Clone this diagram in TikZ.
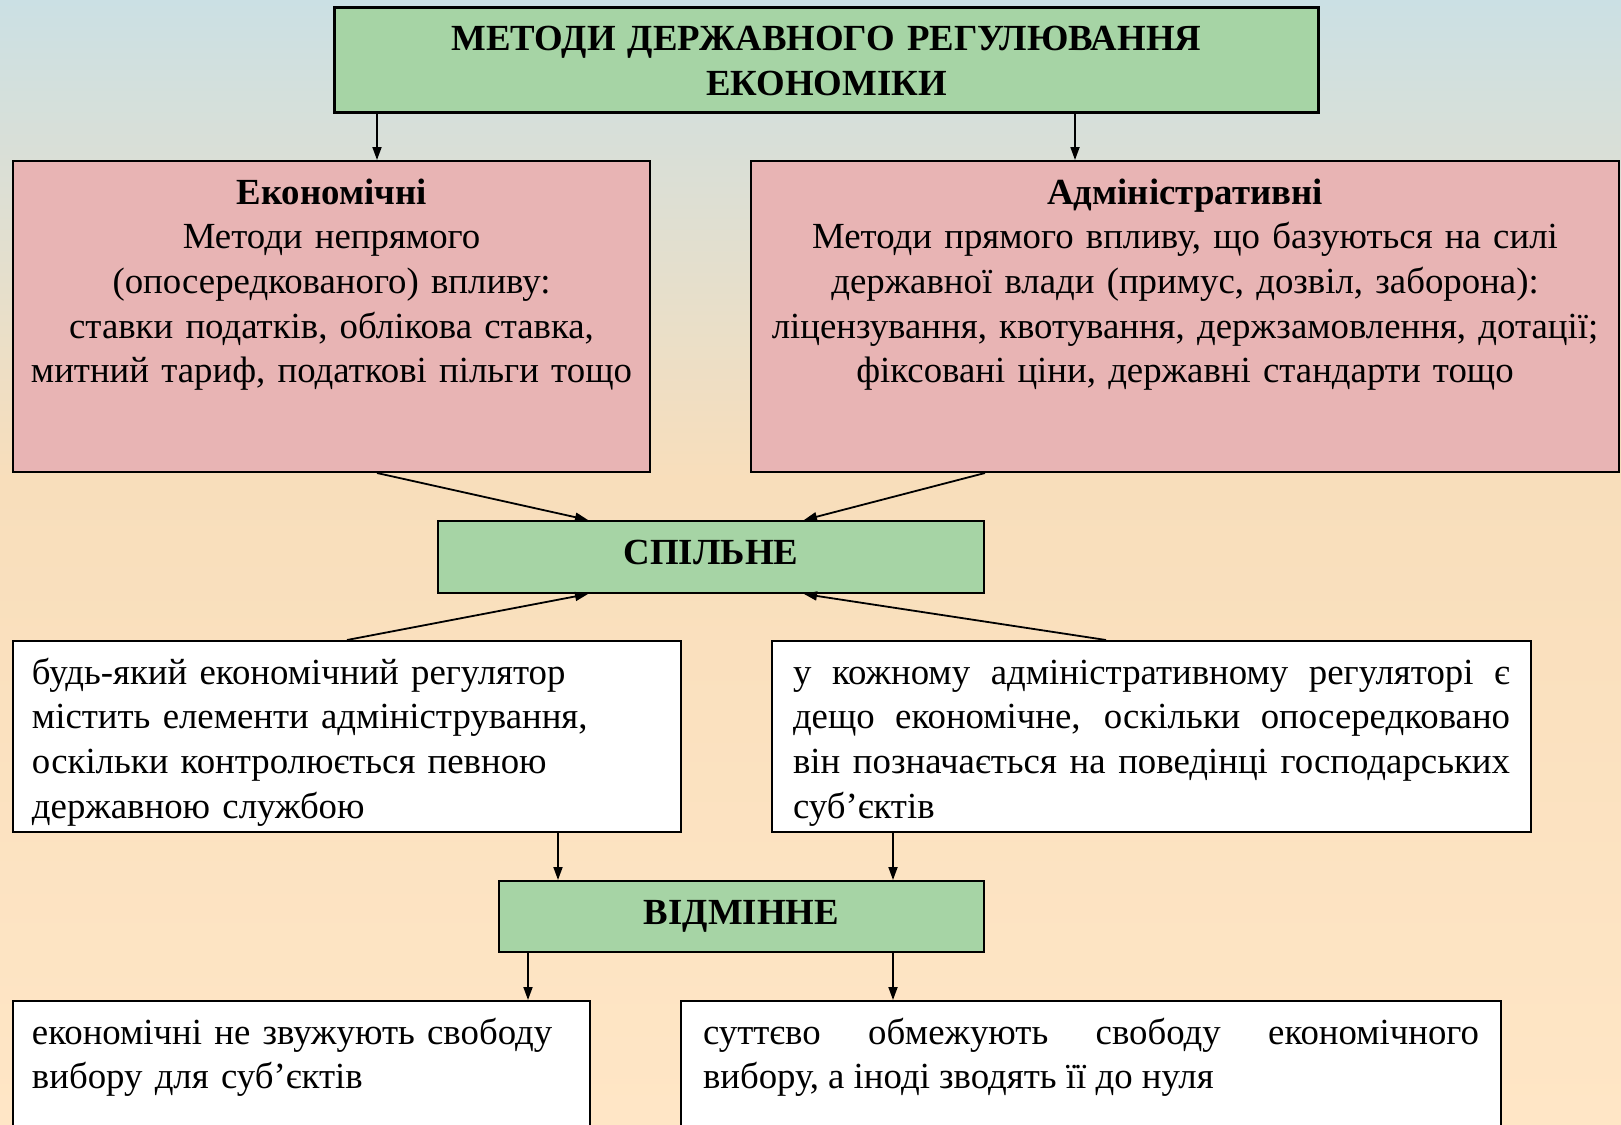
\documentclass[tikz,border=0pt]{standalone}
\usepackage{fontspec}
\setmainfont{Liberation Serif}
\usetikzlibrary{arrows.meta}

\definecolor{bgtop}{RGB}{203,224,228}
\definecolor{bgmid}{RGB}{248,222,187}
\definecolor{bgbot}{RGB}{255,230,198}
\definecolor{boxgreen}{RGB}{166,212,165}
\definecolor{boxpink}{RGB}{232,180,180}

\begin{document}
\begin{tikzpicture}[x=0.5pt, y=-0.5pt,
  font=\fontsize{18.4}{22.35}\selectfont,
  box/.style={draw=black, line width=1pt, anchor=north west,
    inner ysep=0pt, text height=21.5pt},
  greenbox/.style={box, fill=boxgreen, inner xsep=0pt, align=center,
    font=\fontsize{18.4}{22.35}\selectfont\bfseries},
  pinkbox/.style={box, fill=boxpink, inner xsep=0pt, align=center},
  whitebox/.style={box, fill=white, inner xsep=9.5pt},
  arr/.style={-{Triangle[length=6.5pt, width=4.5pt]}, line width=0.9pt}]

  % Page size and background
  \useasboundingbox (0,0) rectangle (1621,1124);
  \clip (0,0) rectangle (1621,1124);
  \shade[top color=bgtop, bottom color=bgmid] (0,0) rectangle (1621,480);
  \shade[top color=bgmid, bottom color=bgbot] (0,479) rectangle (1621,1124);

  % Title
  \node[greenbox, line width=1.4pt, text width=492pt, text depth=31pt]
    (title) at (333,6) {МЕТОДИ ДЕРЖАВНОГО РЕГУЛЮВАННЯ\\ЕКОНОМІКИ};

  % Two groups of methods
  \node[pinkbox, text width=318.5pt, text depth=134pt] (econ) at (12,160)
    {\textbf{Економічні}\\Методи непрямого\\(опосередкованого) впливу:\\
     ставки податків, облікова ставка,\\митний тариф, податкові пільги тощо};
  \node[pinkbox, text width=434pt, text depth=134pt] (admin) at (750,160)
    {\textbf{Адміністративні}\\Методи прямого впливу, що базуються на силі\\
     державної влади (примус, дозвіл, заборона):\\
     ліцензування, квотування, держзамовлення, дотації;\\
     фіксовані ціни, державні стандарти тощо};

  % Common features
  \node[greenbox, text width=273pt, text depth=14.5pt] (common) at (437,520)
    {СПІЛЬНЕ};
  \node[whitebox, align=left, text width=315pt, text depth=74pt]
    (leftw) at (12,640)
    {будь-який економічний регулятор\\містить елементи адміністрування,\\
     оскільки контролюється певною\\державною службою};
  \node[whitebox, align=justify, text width=358.5pt, minimum width=379.5pt,
    text depth=74pt] (rightw) at (771,640)
    {у кожному адміністративному регуляторі є\linebreak
     дещо економічне, оскільки опосередковано\linebreak
     він позначається на поведінці господарських\linebreak
     суб’єктів};

  % Differences
  \node[greenbox, text width=242.5pt, text depth=14pt] (vidm) at (498,880)
    {ВІДМІННЕ};
  \node[whitebox, align=left, text width=269.5pt, text depth=50pt]
    (botl) at (12,1000)
    {економічні не звужують свободу\\вибору для суб’єктів};
  \node[whitebox, align=justify, text width=388pt, minimum width=410pt,
    text depth=50pt] (botr) at (680,1000)
    {суттєво обмежують свободу економічного\linebreak
     вибору, а іноді зводять її до нуля};

  % Arrow positions
  \coordinate (aEcon) at (377,0);
  \coordinate (aAdmin) at (1075,0);
  \coordinate (aComL) at (588,0);
  \coordinate (aComR) at (804,0);
  \coordinate (aLeftw) at (347,0);
  \coordinate (aRightw) at (1106,0);
  \coordinate (aVidL) at (558,0);
  \coordinate (aVidR) at (893,0);
  \coordinate (aBotL) at (528,0);

  % Connectors
  \draw[arr] (title.south -| aEcon) -- (econ.north -| aEcon);
  \draw[arr] (title.south -| aAdmin) -- (admin.north -| aAdmin);
  \draw[arr] (econ.south -| aEcon) -- (common.north -| aComL);
  \draw[arr] (admin.south -| common.east) -- (common.north -| aComR);
  \draw[arr] (leftw.north -| aLeftw) -- (common.south -| aComL);
  \draw[arr] (rightw.north -| aRightw) -- (common.south -| aComR);
  \draw[arr] (leftw.south -| aVidL) -- (vidm.north -| aVidL);
  \draw[arr] (rightw.south -| aVidR) -- (vidm.north -| aVidR);
  \draw[arr] (vidm.south -| aBotL) -- (botl.north -| aBotL);
  \draw[arr] (vidm.south -| aVidR) -- (botr.north -| aVidR);

\end{tikzpicture}
\end{document}
